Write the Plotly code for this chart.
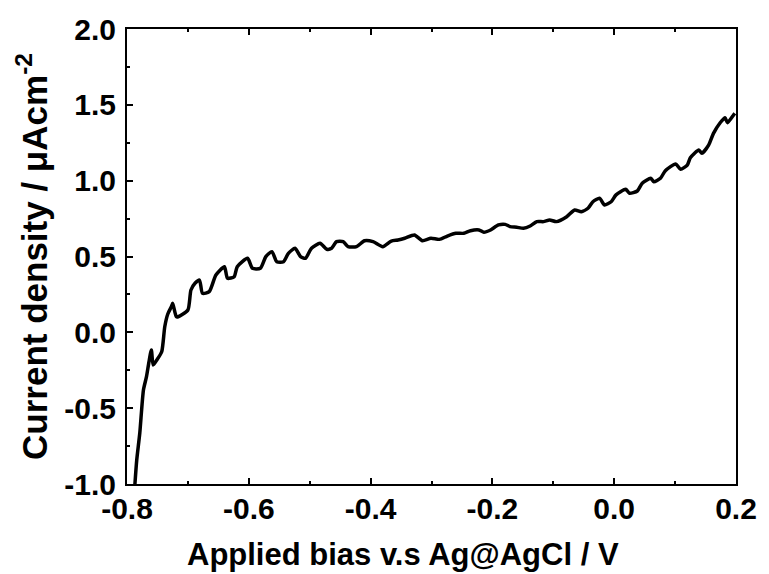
import plotly.graph_objects as go

bias_V = [-0.787, -0.784, -0.779, -0.773, -0.768, -0.764, -0.760, -0.757, -0.751, -0.743,
          -0.738, -0.733, -0.727, -0.725, -0.719, -0.716, -0.700, -0.695, -0.688, -0.681,
          -0.676, -0.665, -0.654, -0.640, -0.635, -0.624, -0.619, -0.602, -0.594, -0.581,
          -0.572, -0.562, -0.554, -0.543, -0.535, -0.524, -0.515, -0.507, -0.497, -0.483,
          -0.472, -0.464, -0.456, -0.445, -0.437, -0.423, -0.410, -0.396, -0.380, -0.366,
          -0.355, -0.344, -0.328, -0.315, -0.301, -0.287, -0.274, -0.260, -0.247, -0.236,
          -0.222, -0.214, -0.203, -0.190, -0.179, -0.171, -0.160, -0.149, -0.138, -0.127,
          -0.116, -0.106, -0.095, -0.078, -0.065, -0.054, -0.043, -0.035, -0.024, -0.016,
          -0.005, 0.003, 0.019, 0.025, 0.038, 0.046, 0.060, 0.065, 0.076, 0.084,
          0.101, 0.109, 0.120, 0.125, 0.139, 0.144, 0.155, 0.163, 0.174, 0.182,
          0.186, 0.196, 0.198]
current_density = [-1.000, -0.842, -0.664, -0.380, -0.292, -0.196, -0.116, -0.215, -0.182, -0.128,
                   0.037, 0.121, 0.170, 0.191, 0.103, 0.103, 0.147, 0.279, 0.325, 0.345,
                   0.257, 0.268, 0.378, 0.433, 0.356, 0.367, 0.433, 0.488, 0.422, 0.422,
                   0.499, 0.532, 0.466, 0.466, 0.521, 0.554, 0.499, 0.488, 0.554, 0.587,
                   0.548, 0.554, 0.598, 0.598, 0.565, 0.565, 0.604, 0.598, 0.565, 0.602,
                   0.609, 0.620, 0.642, 0.604, 0.620, 0.613, 0.635, 0.653, 0.653, 0.670,
                   0.675, 0.660, 0.675, 0.708, 0.712, 0.697, 0.693, 0.686, 0.701, 0.730,
                   0.730, 0.741, 0.730, 0.762, 0.807, 0.795, 0.818, 0.861, 0.884, 0.840,
                   0.861, 0.906, 0.943, 0.917, 0.932, 0.983, 1.016, 0.993, 1.016, 1.066,
                   1.110, 1.075, 1.103, 1.151, 1.202, 1.180, 1.235, 1.312, 1.382, 1.415,
                   1.382, 1.433, 1.444]

x_ticks = [-0.8, -0.6, -0.4, -0.2, 0.0, 0.2]
y_ticks = [-1.0, -0.5, 0.0, 0.5, 1.0, 1.5, 2.0]
x_title = "Applied bias v.s Ag@AgCl / V"
y_title = "Current density / μAcm<sup>-2</sup>"

font_family = "Liberation Sans, Arial, sans-serif"

fig = go.Figure()
fig.add_trace(go.Scatter(
    x=bias_V, y=current_density, mode="lines",
    line=dict(color="black", width=3.5, shape="spline", smoothing=0.6),
    cliponaxis=True, showlegend=False,
))

fig.update_layout(
    width=769, height=574,
    margin=dict(l=127, r=28, t=29, b=90),
    paper_bgcolor="white", plot_bgcolor="white",
    font=dict(family=font_family, color="black"),
)
fig.update_xaxes(
    range=[-0.8, 0.2], tickvals=x_ticks, ticktext=[f"{v:.1f}" for v in x_ticks],
    showgrid=False, zeroline=False,
    showline=True, linecolor="black", linewidth=2, mirror="ticks",
    ticks="inside", ticklen=6, tickwidth=1.5, tickcolor="black",
    minor=dict(ticks="inside", ticklen=3, tickwidth=1.5, tickcolor="black", dtick=0.1, tick0=0, showgrid=False),
    tickfont=dict(size=30, family=font_family, weight="bold"),
    ticklabelstandoff=-3,
)
fig.update_yaxes(
    range=[-1.0, 2.0], tickvals=y_ticks, ticktext=[f"{v:.1f}" for v in y_ticks],
    showgrid=False, zeroline=False,
    showline=True, linecolor="black", linewidth=2, mirror=True,
    ticks="inside", ticklen=6, tickwidth=1.5, tickcolor="black",
    minor=dict(ticks="inside", ticklen=3, tickwidth=1.5, tickcolor="black", dtick=0.25, tick0=0, showgrid=False),
    tickfont=dict(size=30, family=font_family, weight="bold"),
    ticklabelstandoff=3,
    title=dict(text="<b>" + y_title + "</b>", font=dict(size=35, family=font_family), standoff=6),
)
fig.add_annotation(
    text="<b>" + x_title + "</b>", xref="paper", yref="paper",
    x=0.453, y=-0.154, xanchor="center", yanchor="middle", showarrow=False,
    font=dict(size=31, family=font_family, color="black"),
)

fig.write_html("out.html")
